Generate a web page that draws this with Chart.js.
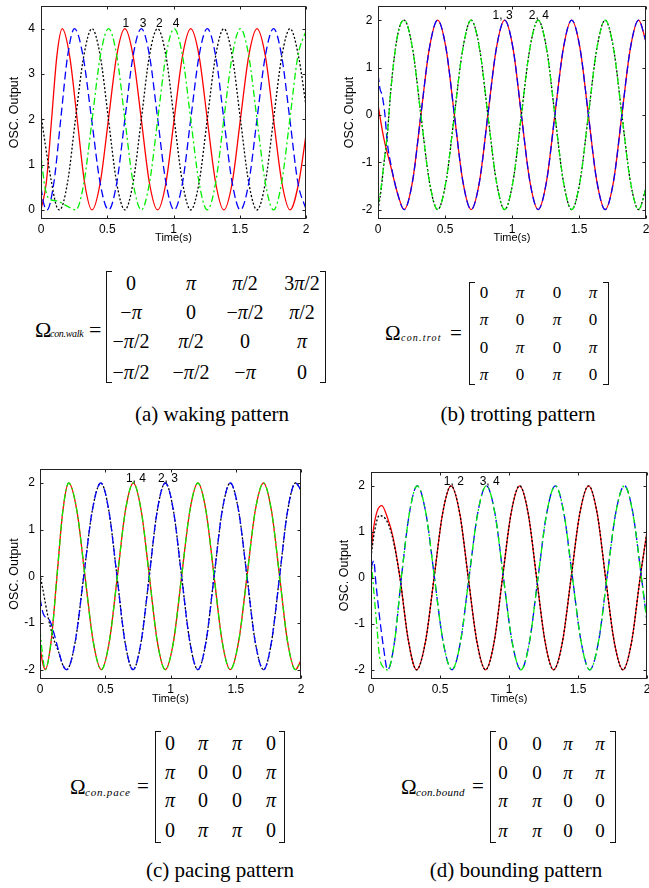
<!DOCTYPE html>
<html>
<head>
<meta charset="utf-8">
<script src="https://cdn.jsdelivr.net/npm/chart.js@4.4.1/dist/chart.umd.min.js"></script>
<style>
body{margin:0;background:#fff;}
#page{position:relative;width:649px;height:888px;overflow:hidden;font-family:"Liberation Serif","Times New Roman",serif;color:#000;}
canvas{position:absolute;}
.t{position:absolute;white-space:nowrap;line-height:1;transform:translate(-50%,-50%);}
.tl{position:absolute;white-space:nowrap;line-height:1;transform:translate(0,-50%);}
.br{position:absolute;border:1.5px solid #111;width:6px;box-sizing:border-box;}
.br.l{border-right:none;}
.br.r{border-left:none;}
</style>
</head>
<body>
<div id="page">
  <canvas id="cWalk"></canvas>
  <canvas id="cTrot"></canvas>
  <canvas id="cPace"></canvas>
  <canvas id="cBound"></canvas>
</div>
<script>
// axis ticks
const xTicks = [0, 0.5, 1, 1.5, 2];
const xTickLabels = ['0', '0.5', '1', '1.5', '2'];
const walkYTicks = [0, 1, 2, 3, 4];
const walkYTickLabels = ['0', '1', '2', '3', '4'];
const legYTicks = [-2, -1, 0, 1, 2];
const legYTickLabels = ['-2', '-1', '0', '1', '2'];

// (a) walk, [time, output]
const walk1 = [[0,0],[0.04,0.6],[0.08,2],[0.12,3.4],[0.16,4],[0.216,3.4],[0.273,2],[0.329,0.6],[0.385,0],[0.447,0.6],[0.509,2],[0.571,3.4],[0.633,4],[0.695,3.4],[0.757,2],[0.818,0.6],[0.88,0],[0.943,0.6],[1.005,2],[1.068,3.4],[1.13,4],[1.193,3.4],[1.255,2],[1.318,0.6],[1.38,0],[1.443,0.6],[1.505,2],[1.568,3.4],[1.63,4],[1.693,3.4],[1.755,2],[1.818,0.6],[1.88,0],[1.945,0.6],[2,1.65]];
const walk2 = [[0,2.1],[0.032,1.45],[0.083,0.55],[0.115,0.1],[0.14,0],[0.2,0.6],[0.26,2],[0.323,3.4],[0.385,4],[0.447,3.4],[0.509,2],[0.571,0.6],[0.633,0],[0.695,0.6],[0.757,2],[0.818,3.4],[0.88,4],[0.943,3.4],[1.005,2],[1.068,0.6],[1.13,0],[1.193,0.6],[1.255,2],[1.318,3.4],[1.38,4],[1.443,3.4],[1.505,2],[1.568,0.6],[1.63,0],[1.693,0.6],[1.755,2],[1.818,3.4],[1.88,4],[1.943,3.4],[2,2.3]];
const walk3 = [[0,0.5],[0.02,0.15],[0.045,0],[0.097,0.6],[0.149,2],[0.201,3.4],[0.253,4],[0.317,3.4],[0.382,2],[0.446,0.6],[0.51,0],[0.572,0.6],[0.633,2],[0.695,3.4],[0.757,4],[0.819,3.4],[0.881,2],[0.943,0.6],[1.005,0],[1.068,0.6],[1.13,2],[1.193,3.4],[1.255,4],[1.318,3.4],[1.38,2],[1.443,0.6],[1.505,0],[1.568,0.6],[1.63,2],[1.693,3.4],[1.755,4],[1.816,3.4],[1.878,2],[1.939,0.6],[2,0.02]];
const walk4 = [[0,1.18],[0.03,0.5],[0.06,0.25],[0.12,0.2],[0.2,0.08],[0.262,0],[0.324,0.6],[0.386,2],[0.448,3.4],[0.51,4],[0.572,3.4],[0.633,2],[0.695,0.6],[0.757,0],[0.819,0.6],[0.881,2],[0.943,3.4],[1.005,4],[1.068,3.4],[1.13,2],[1.193,0.6],[1.255,0],[1.318,0.6],[1.38,2],[1.443,3.4],[1.505,4],[1.568,3.4],[1.63,2],[1.693,0.6],[1.755,0],[1.816,0.6],[1.878,2],[1.939,3.4],[2,3.95]];

// (b) trot: legs 1,3 and 2,4 share the settled part
const trotOdd = [[0.195,-2],[0.258,-1.4],[0.32,0],[0.383,1.4],[0.445,2],[0.508,1.4],[0.57,0],[0.633,-1.4],[0.695,-2],[0.758,-1.4],[0.82,0],[0.883,1.4],[0.945,2],[1.008,1.4],[1.07,0],[1.133,-1.4],[1.195,-2],[1.258,-1.4],[1.32,0],[1.383,1.4],[1.445,2],[1.508,1.4],[1.57,0],[1.633,-1.4],[1.695,-2],[1.758,-1.4],[1.82,0],[1.883,1.4],[1.945,2],[2,1.55]];
const trotEven = [[0.195,2],[0.258,1.4],[0.32,0],[0.383,-1.4],[0.445,-2],[0.508,-1.4],[0.57,0],[0.633,1.4],[0.695,2],[0.758,1.4],[0.82,0],[0.883,-1.4],[0.945,-2],[1.008,-1.4],[1.07,0],[1.133,1.4],[1.195,2],[1.258,1.4],[1.32,0],[1.383,-1.4],[1.445,-2],[1.508,-1.4],[1.57,0],[1.633,1.4],[1.695,2],[1.758,1.4],[1.82,0],[1.883,-1.4],[1.945,-2],[2,-1.55]];
const trotHead1 = [[0,0.21],[0.043,-0.49],[0.093,-1.06],[0.145,-1.65]];
const trotHead2 = [[0,-2],[0.02,-1.65],[0.045,-1.0],[0.07,-0.4],[0.095,0.5],[0.13,1.4],[0.16,1.85]];
const trotHead3 = [[0,0.86],[0.015,0.55],[0.03,0.42],[0.05,0.05],[0.07,-0.6],[0.1,-1.1],[0.145,-1.65]];
const trotHead4 = [[0,-1.9],[0.02,-1.6],[0.045,-1.0],[0.07,-0.4],[0.095,0.5],[0.13,1.4],[0.16,1.85]];

// (c) pace: legs 1,4 and 2,3
const pace14 = [[0.04,-2],[0.085,-1.4],[0.13,0],[0.175,1.4],[0.22,2],[0.283,1.4],[0.345,0],[0.408,-1.4],[0.47,-2],[0.531,-1.4],[0.593,0],[0.654,1.4],[0.715,2],[0.776,1.4],[0.838,0],[0.899,-1.4],[0.96,-2],[1.023,-1.4],[1.085,0],[1.148,1.4],[1.21,2],[1.272,1.4],[1.334,0],[1.396,-1.4],[1.458,-2],[1.522,-1.4],[1.586,0],[1.649,1.4],[1.713,2],[1.774,1.4],[1.836,0],[1.897,-1.4],[1.958,-2],[2,-1.8]];
const pace23 = [[0.204,-2],[0.27,-1.4],[0.335,0],[0.4,1.4],[0.466,2],[0.528,1.4],[0.59,0],[0.651,-1.4],[0.713,-2],[0.775,-1.4],[0.837,0],[0.898,1.4],[0.96,2],[1.023,1.4],[1.085,0],[1.148,-1.4],[1.21,-2],[1.272,-1.4],[1.334,0],[1.396,1.4],[1.458,2],[1.522,1.4],[1.586,0],[1.649,-1.4],[1.713,-2],[1.774,-1.4],[1.836,0],[1.897,1.4],[1.958,2],[2,1.85]];
const paceHead1 = [[0,-1.5],[0.02,-1.85]];
const paceHead2 = [[0,0.05],[0.03,-0.4],[0.06,-0.85],[0.1,-1.3],[0.14,-1.6],[0.175,-1.9]];
const paceHead3 = [[0,-0.47],[0.025,-0.8],[0.075,-0.95],[0.1,-1.15],[0.14,-1.57],[0.175,-1.9]];
const paceHead4 = [[0,-1.15],[0.02,-1.7]];

// (d) bound: legs 1,2 and 3,4
const bound12 = [[0.33,-2],[0.394,-1.4],[0.457,0],[0.519,1.4],[0.58,2],[0.643,1.4],[0.705,0],[0.768,-1.4],[0.83,-2],[0.892,-1.4],[0.953,0],[1.015,1.4],[1.077,2],[1.139,1.4],[1.2,0],[1.262,-1.4],[1.323,-2],[1.387,-1.4],[1.45,0],[1.513,1.4],[1.577,2],[1.639,1.4],[1.7,0],[1.763,-1.4],[1.826,-2],[1.888,-1.4],[1.95,0],[2,1.0]];
const bound34 = [[0.12,-2],[0.17,-1.4],[0.22,0],[0.278,1.4],[0.335,2],[0.398,1.4],[0.46,0],[0.523,-1.4],[0.587,-2],[0.648,-1.4],[0.71,0],[0.773,1.4],[0.836,2],[0.898,1.4],[0.96,0],[1.023,-1.4],[1.087,-2],[1.148,-1.4],[1.21,0],[1.273,1.4],[1.336,2],[1.398,1.4],[1.46,0],[1.523,-1.4],[1.585,-2],[1.648,-1.4],[1.71,0],[1.773,1.4],[1.836,2],[1.898,1.4],[1.96,0],[2,-0.95]];
const boundHead1 = [[0,0.55],[0.02,1.1],[0.045,1.45],[0.078,1.57],[0.12,1.3],[0.16,0.88],[0.21,0],[0.27,-1.35]];
const boundHead2 = [[0,0.45],[0.025,1.0],[0.06,1.35],[0.1,1.3],[0.15,0.95],[0.21,0],[0.27,-1.35]];
const boundHead3 = [[0,0.2],[0.02,0.37],[0.035,-0.1],[0.06,-0.8],[0.09,-1.5]];
const boundHead4 = [[0,0.45],[0.02,-0.28],[0.043,-1.07],[0.062,-1.72],[0.09,-1.95]];

// leg tags over the curves: text, time, output
const walkTags = [['1',0.64,4.11],['3',0.77,4.11],['2',0.894,4.11],['4',1.02,4.11]];
const trotTags = [['1, 3',0.93,2.1],['2, 4',1.2,2.1]];
const paceTags = [['1, 4',0.735,2.09],['2, 3',0.98,2.09]];
const boundTags = [['1, 2',0.6,2.09],['3, 4',0.86,2.09]];

// phase matrices
const walkMatrix = [['0','π','π/2','3π/2'],['−π','0','−π/2','π/2'],['−π/2','π/2','0','π'],['−π/2','−π/2','−π','0']];
const trotMatrix = [['0','π','0','π'],['π','0','π','0'],['0','π','0','π'],['π','0','π','0']];
const paceMatrix = [['0','π','π','0'],['π','0','0','π'],['π','0','0','π'],['0','π','π','0']];
const boundMatrix = [['0','0','π','π'],['0','0','π','π'],['π','π','0','0'],['π','π','0','0']];

Chart.defaults.font.family = '"Liberation Sans", Arial, sans-serif';
Chart.defaults.color = '#000';

const red = {color:'#ff0000', dash:[], order:4};
const black = {color:'#000000', dash:[2,2], order:3};
const blue = {color:'#0000ff', dash:[8,4], order:2};
const green = {color:'#00ee00', dash:[7,3,2,3], order:1};

const boxPlugin = {
  id: 'box',
  afterDatasetsDraw(chart) {
    const {ctx, chartArea: a, scales: {x, y}} = chart;
    const l = Math.round(a.left) + 0.5, r = Math.round(a.right) - 0.5;
    const t = Math.round(a.top) + 0.5, b = Math.round(a.bottom) - 0.5;
    ctx.save();
    ctx.strokeStyle = '#222';
    ctx.lineWidth = 1;
    ctx.strokeRect(l, t, r - l, b - t);
    ctx.beginPath();
    x.ticks.forEach(tk => {
      const px = Math.round(x.getPixelForValue(tk.value)) + 0.5;
      ctx.moveTo(px, b); ctx.lineTo(px, b - 3);
      ctx.moveTo(px, t); ctx.lineTo(px, t + 3);
    });
    y.ticks.forEach(tk => {
      const py = Math.round(y.getPixelForValue(tk.value)) + 0.5;
      ctx.moveTo(l, py); ctx.lineTo(l + 3, py);
      ctx.moveTo(r, py); ctx.lineTo(r - 3, py);
    });
    ctx.stroke();
    ctx.restore();
  }
};

const tagPlugin = {
  id: 'tags',
  afterDatasetsDraw(chart, args, opts) {
    const {ctx, scales: {x, y}} = chart;
    ctx.save();
    ctx.font = '12px "Liberation Sans", Arial, sans-serif';
    ctx.fillStyle = '#000';
    ctx.textAlign = 'center';
    ctx.textBaseline = 'middle';
    (opts.items || []).forEach(it => ctx.fillText(it[0], x.getPixelForValue(it[1]), y.getPixelForValue(it[2])));
    ctx.restore();
  }
};

function makeChart(id, f, yMin, yMax, yTicks, yLabels, sets, tags) {
  const cv = document.getElementById(id);
  cv.width = f.w; cv.height = f.h;
  cv.style.left = f.x + 'px'; cv.style.top = f.y + 'px';
  const b = f.box;
  return new Chart(cv, {
    type: 'line',
    data: {
      datasets: sets.map(s => ({
        data: s.data.map(p => ({x: p[0], y: p[1]})),
        borderColor: s.style.color,
        borderDash: s.style.dash,
        borderWidth: 1.3,
        pointRadius: 0,
        fill: false,
        cubicInterpolationMode: 'monotone',
        order: s.style.order
      }))
    },
    options: {
      responsive: false,
      animation: false,
      devicePixelRatio: 1,
      layout: {autoPadding: false, padding: {left: 0, top: b.t - f.y, right: f.x + f.w - b.r, bottom: 0}},
      plugins: {legend: {display: false}, tooltip: {enabled: false}, tags: {items: tags}},
      scales: {
        x: {
          type: 'linear', min: 0, max: 2,
          grid: {display: false, drawTicks: false},
          border: {display: false},
          afterBuildTicks: s => { s.ticks = xTicks.map(v => ({value: v})); },
          afterFit: s => { s.height = f.y + f.h - b.b; s.paddingLeft = 0; s.paddingRight = 0; },
          ticks: {padding: f.xLab - b.b - 7.2, maxRotation: 0, autoSkip: false, font: {size: 12},
                  callback: (v, i) => xTickLabels[i]},
          title: {display: true, text: 'Time(s)', font: {size: 11},
                  padding: {top: 0, bottom: f.y + f.h - f.xTitle - 6.6}}
        },
        y: {
          type: 'linear', min: yMin, max: yMax,
          grid: {display: false, drawTicks: false},
          border: {display: false},
          afterBuildTicks: s => { s.ticks = yTicks.map(v => ({value: v})); },
          afterFit: s => { s.width = b.l - f.x; s.paddingTop = 0; s.paddingBottom = 0; },
          ticks: {padding: f.yPad, font: {size: 12}, callback: (v, i) => yLabels[i]},
          title: {display: true, text: 'OSC. Output', font: {size: 12.5},
                  padding: {top: f.yTitle - f.x - 7.5, bottom: 0}}
        }
      }
    },
    plugins: [boxPlugin, tagPlugin]
  });
}

makeChart('cWalk', {x:0, y:0, w:322, h:250, box:{l:41, t:6, r:306, b:219}, yTitle:15, xLab:230, xTitle:237.5, yPad:6},
  -0.2, 4.5, walkYTicks, walkYTickLabels,
  [{data: walk1, style: red}, {data: walk2, style: black}, {data: walk3, style: blue}, {data: walk4, style: green}],
  walkTags);

makeChart('cTrot', {x:330, y:0, w:319, h:250, box:{l:378, t:6, r:646, b:219}, yTitle:350, xLab:230, xTitle:237.5, yPad:5.5},
  -2.2, 2.3, legYTicks, legYTickLabels,
  [{data: trotHead1.concat(trotOdd), style: red}, {data: trotHead2.concat(trotEven), style: black},
   {data: trotHead3.concat(trotOdd), style: blue}, {data: trotHead4.concat(trotEven), style: green}],
  trotTags);

makeChart('cPace', {x:0, y:455, w:322, h:260, box:{l:40, t:469, r:301, b:679}, yTitle:15, xLab:690, xTitle:698.5, yPad:5},
  -2.2, 2.3, legYTicks, legYTickLabels,
  [{data: paceHead1.concat(pace14), style: red}, {data: paceHead2.concat(pace23), style: black},
   {data: paceHead3.concat(pace23), style: blue}, {data: paceHead4.concat(pace14), style: green}],
  paceTags);

makeChart('cBound', {x:330, y:455, w:319, h:260, box:{l:371, t:472, r:647, b:679}, yTitle:345, xLab:690, xTitle:698.5, yPad:6},
  -2.2, 2.3, legYTicks, legYTickLabels,
  [{data: boundHead1.concat(bound12), style: red}, {data: boundHead2.concat(bound12), style: black},
   {data: boundHead3.concat(bound34), style: blue}, {data: boundHead4.concat(bound34), style: green}],
  boundTags);

// matrices and captions as page text
const page = document.getElementById('page');
function addText(html, x, y, size, cls, css) {
  const d = document.createElement('div');
  d.className = cls;
  d.innerHTML = html;
  d.style.left = x + 'px';
  d.style.top = y + 'px';
  d.style.fontSize = size + 'px';
  if (css) Object.assign(d.style, css);
  page.appendChild(d);
}
function fmt(s) { return s.replace(/π/g, '<i>π</i>'); }

function drawMatrix(m, L) {
  m.forEach((row, r) => row.forEach((cell, c) => addText(fmt(cell), L.cols[c], L.rows[r], L.size, 't')));
  ['l', 'r'].forEach(side => {
    const d = document.createElement('div');
    d.className = 'br ' + side;
    d.style.left = (side === 'l' ? L.br[0] : L.br[1] - 6) + 'px';
    d.style.top = L.br[2] + 'px';
    d.style.height = (L.br[3] - L.br[2]) + 'px';
    page.appendChild(d);
  });
  addText('Ω', L.om[0], L.om[1], L.om[2], 'tl');
  addText(L.sub, L.sb[0], L.sb[1], L.sb[2], 'tl', {fontStyle: 'italic', letterSpacing: L.sb[3] + 'px'});
  addText('=', L.eq[0], L.eq[1], L.om[2], 'tl');
  addText(L.cap, L.cp[0], L.cp[1], 21, 't');
}

drawMatrix(walkMatrix, {cols:[131,191,245,302], rows:[283,312,341,372], size:20, br:[106,326,271,383],
  om:[35,330,22], sub:'con.walk', sb:[50,334,10,-0.3], eq:[89,330], cap:'(a) waking pattern', cp:[212,414]});
drawMatrix(trotMatrix, {cols:[484,520,557,593], rows:[292,319,347,374], size:17, br:[469,609,282,385],
  om:[385,333,21], sub:'con.trot', sb:[401,338,10,1.2], eq:[450,333], cap:'(b) trotting pattern', cp:[518,414]});
drawMatrix(paceMatrix, {cols:[170,203,237,271], rows:[743,772,800,830], size:20, br:[155,285,731,843],
  om:[70,787,21], sub:'con.pace', sb:[85,792,11,0.8], eq:[137,786], cap:'(c) pacing pattern', cp:[220,870]});
drawMatrix(boundMatrix, {cols:[503,537,568,600], rows:[743,772,800,830], size:19, br:[490,616,731,843],
  om:[401,787,21], sub:'con.bound', sb:[416,792,11,0.3], eq:[472,786], cap:'(d) bounding pattern', cp:[516,870]});
</script>
</body>
</html>
